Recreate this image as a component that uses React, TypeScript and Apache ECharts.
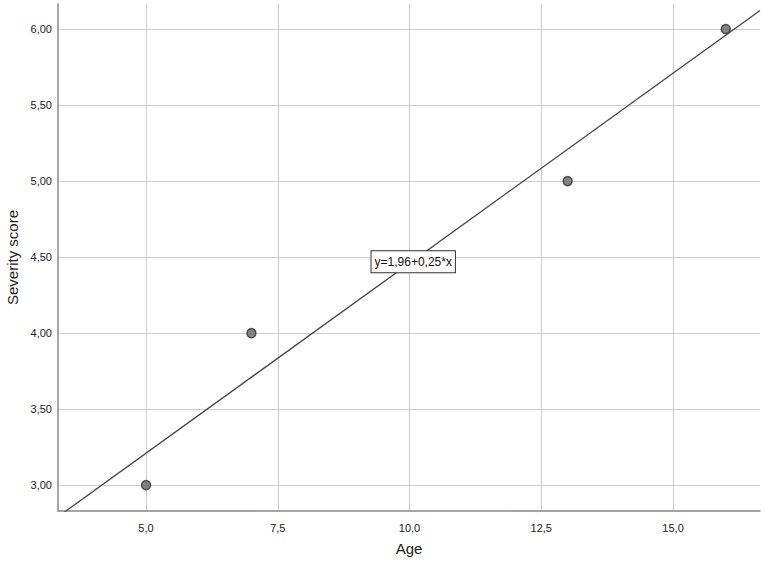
import React, { useEffect, useRef } from "react";
import * as echarts from "echarts";

const ages = [5, 7, 13, 16];
const scores = [3, 4, 5, 6];
const xTicks = [5, 7.5, 10, 12.5, 15];
const yTicks = [3, 3.5, 4, 4.5, 5, 5.5, 6];
const intercept = 1.96;
const slope = 0.25;
const xRange = [3.33, 16.65];
const yRange = [2.83, 6.165];
const fitLabel = "y=1,96+0,25*x";

const fmt = (v: number, d: number) => v.toFixed(d).replace(".", ",");

export default function App() {
  const ref = useRef<HTMLDivElement>(null);
  useEffect(() => {
    document.body.style.margin = "0";
    const chart = echarts.init(ref.current!, undefined, { renderer: "svg" });
    const fitData = xRange.map((x) => [x, intercept + slope * x]);
    chart.setOption({
      animation: false,
      backgroundColor: "#fff",
      textStyle: { fontFamily: "Liberation Sans, Arial, sans-serif" },
      grid: { left: 58, right: 5, top: 4, bottom: 52, outerBoundsMode: "none", containLabel: false },
      xAxis: {
        type: "value",
        min: xRange[0],
        max: xRange[1],
        name: "Age",
        nameLocation: "middle",
        nameGap: 30,
        nameTextStyle: { fontSize: 15, color: "#222" },
        axisLine: { show: true, onZero: false, lineStyle: { color: "#888", width: 1.5 } },
        axisTick: { show: false, customValues: xTicks },
        axisLabel: {
          customValues: xTicks,
          formatter: (v: number) => fmt(v, 1),
          fontSize: 11,
          color: "#222",
          margin: 11,
        },
        splitLine: { show: true, lineStyle: { color: "#d0d0d0", width: 1.2 } },
      },
      yAxis: {
        type: "value",
        min: yRange[0],
        max: yRange[1],
        name: "Severity score",
        nameLocation: "middle",
        nameGap: 38,
        nameRotate: 90,
        nameTextStyle: { fontSize: 15, color: "#222" },
        axisLine: { show: true, onZero: false, lineStyle: { color: "#888", width: 1.5 } },
        axisTick: { show: false, customValues: yTicks },
        axisLabel: {
          customValues: yTicks,
          formatter: (v: number) => fmt(v, 2),
          fontSize: 11,
          color: "#222",
          margin: 6,
        },
        splitLine: { show: true, lineStyle: { color: "#d0d0d0", width: 1.2 } },
      },
      series: [
        {
          type: "line",
          data: fitData,
          showSymbol: false,
          clip: true,
          lineStyle: { color: "#444", width: 1.3 },
          z: 3,
          markPoint: {
            symbol: "rect",
            symbolSize: 0,
            data: [{ coord: [10.07, 4.47] }],
            label: {
              show: true,
              formatter: fitLabel,
              position: "inside",
              color: "#111",
              fontSize: 12,
              backgroundColor: "#fff",
              borderColor: "#333",
              borderWidth: 1,
              padding: [5, 3, 4, 3],
            },
          },
        },
        {
          type: "scatter",
          data: ages.map((a, i) => [a, scores[i]]),
          symbolSize: 9,
          itemStyle: { color: "#666", borderColor: "#333", borderWidth: 1.5 },
          z: 4,
        },
      ],
    });
    return () => chart.dispose();
  }, []);
  return <div ref={ref} style={{ width: 765, height: 563 }} />;
}
